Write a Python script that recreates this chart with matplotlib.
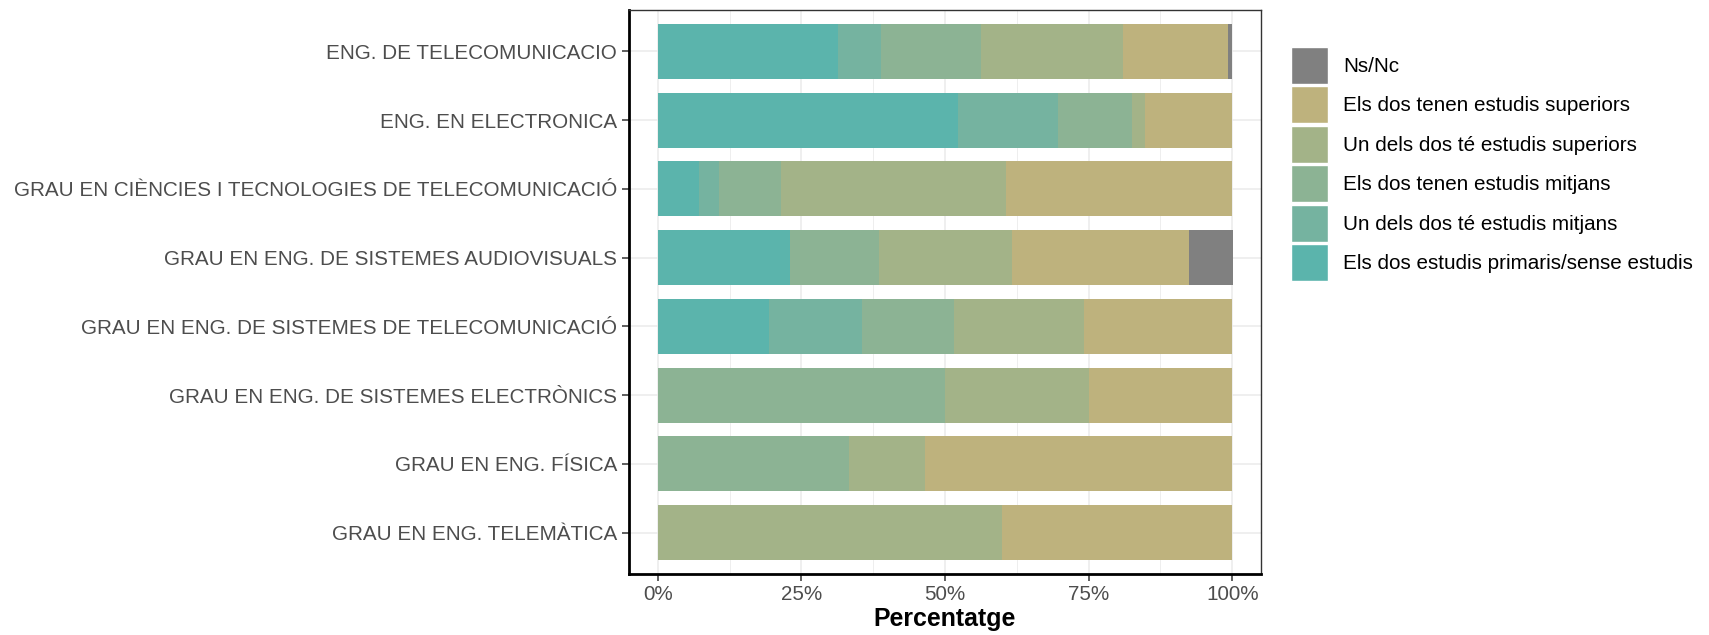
import matplotlib.pyplot as plt
from matplotlib.patches import Patch
from matplotlib.ticker import FuncFormatter, MultipleLocator
import numpy as np

plt.rcParams['font.family'] = ['Liberation Sans', 'DejaVu Sans']

# Categories, top to bottom
categories = [
    "ENG. DE TELECOMUNICACIO",
    "ENG. EN ELECTRONICA",
    "GRAU EN CIÈNCIES I TECNOLOGIES DE TELECOMUNICACIÓ",
    "GRAU EN ENG. DE SISTEMES AUDIOVISUALS",
    "GRAU EN ENG. DE SISTEMES DE TELECOMUNICACIÓ",
    "GRAU EN ENG. DE SISTEMES ELECTRÒNICS",
    "GRAU EN ENG. FÍSICA",
    "GRAU EN ENG. TELEMÀTICA",
]

# Percentages per series (stacked left to right)
primaris = [31.3, 52.2, 7.1, 23.1, 19.4, 0.0, 0.0, 0.0]
un_mitjans = [7.5, 17.4, 3.6, 0.0, 16.1, 0.0, 0.0, 0.0]
dos_mitjans = [17.4, 13.0, 10.7, 15.4, 16.1, 50.0, 33.3, 0.0]
un_superiors = [24.7, 2.2, 39.3, 23.1, 22.6, 25.0, 13.3, 60.0]
dos_superiors = [18.3, 15.2, 39.3, 30.8, 25.8, 25.0, 53.4, 40.0]
ns_nc = [0.8, 0.0, 0.0, 7.7, 0.0, 0.0, 0.0, 0.0]

series_labels = [
    "Els dos estudis primaris/sense estudis",
    "Un dels dos té estudis mitjans",
    "Els dos tenen estudis mitjans",
    "Un dels dos té estudis superiors",
    "Els dos tenen estudis superiors",
    "Ns/Nc",
]
series_colors = ["#5BB4AC", "#75B3A0", "#8CB394", "#A3B388", "#BEB27D", "#808080"]

series = [primaris, un_mitjans, dos_mitjans, un_superiors, dos_superiors, ns_nc]

fig = plt.figure(figsize=(17.09, 6.35), dpi=100)
ax = fig.add_axes([629 / 1709, 61 / 635, (1261 - 629) / 1709, (574 - 10) / 635])

y = np.arange(len(categories))
left = np.zeros(len(categories))
for vals, col in zip(series, series_colors):
    vals = np.array(vals)
    ax.barh(y, vals, left=left, height=0.8, color=col, zorder=2)
    left += vals

ax.set_xlim(-5, 105)
ax.set_ylim(len(categories) - 0.4, -0.6)
ax.set_yticks(y)
ax.set_yticklabels(categories)
ax.xaxis.set_major_locator(MultipleLocator(25))
ax.xaxis.set_minor_locator(MultipleLocator(12.5))
ax.xaxis.set_major_formatter(FuncFormatter(lambda v, p: f"{v:.0f}%"))

ax.grid(True, which='major', color='#EBEBEB', linewidth=1.1, zorder=0)
ax.grid(True, which='minor', axis='x', color='#EBEBEB', linewidth=0.6, zorder=0)
ax.set_axisbelow(True)

ax.tick_params(axis='both', which='major', labelsize=14.9, labelcolor='#4D4D4D',
               color='#333333', length=5, width=1.1)
ax.tick_params(axis='x', which='minor', length=0)
ax.tick_params(axis='x', pad=3)

for side in ['top', 'right']:
    ax.spines[side].set_color('#333333')
    ax.spines[side].set_linewidth(1.0)
for side in ['left', 'bottom']:
    ax.spines[side].set_color('black')
    ax.spines[side].set_linewidth(2.0)

ax.set_xlabel("Percentatge", fontsize=17.9, fontweight='bold', labelpad=2)

handles = [Patch(facecolor=c, edgecolor='white', linewidth=1.0)
           for c in series_colors][::-1]
fig.legend(handles, series_labels[::-1], loc='upper left',
           bbox_to_anchor=(1291 / 1709, 1 - 47 / 635), frameon=False,
           fontsize=14.9, handlelength=1.8, handleheight=2.37,
           labelspacing=0.12, handletextpad=0.72, borderpad=0, borderaxespad=0)

fig.savefig("out.png", dpi=100)
